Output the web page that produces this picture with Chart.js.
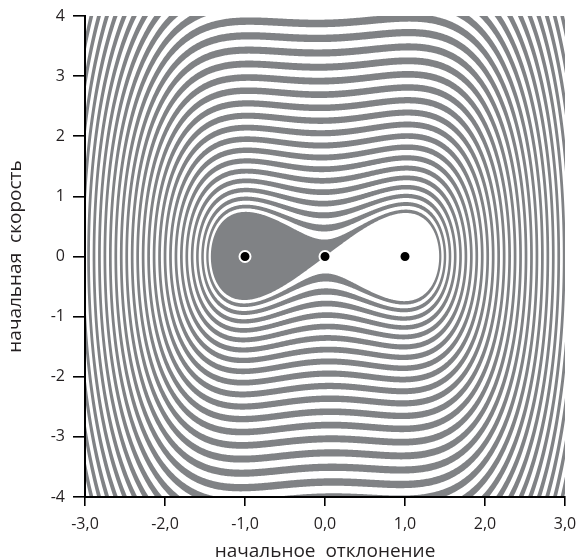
<!DOCTYPE html>
<html>
<head>
<meta charset="utf-8">
<script src="https://cdn.jsdelivr.net/npm/chart.js@4/dist/chart.umd.min.js"></script>
<style>
  html, body { margin: 0; padding: 0; background: #fff; }
  #wrap { width: 579px; height: 560px; }
</style>
</head>
<body>
<div id="wrap"><canvas id="chart" width="579" height="560"></canvas></div>
<script>
// equilibrium points shown as dots
const eqX = [-1, 0, 1];
const eqV = [0, 0, 0];

// axis ranges / ticks
const xTicks = [-3, -2, -1, 0, 1, 2, 3];
const yTicks = [-4, -3, -2, -1, 0, 1, 2, 3, 4];

// Duffing oscillator x'' + d*x' - x + x^3 = 0, damping read from stripe count
const damping = 0.027;

const grey = '#808285';
const textColor = '#231f20';
const fontFamily = '"Open Sans", "Noto Sans", sans-serif';

// stable manifold of the saddle (0,0), traced backwards in time.
// this is the boundary between the two basins of attraction
function stableBranch() {
  const lam = (-damping - Math.sqrt(damping * damping + 4)) / 2;
  const n = Math.hypot(1, lam);
  let x = 1e-6 / n, v = 1e-6 * lam / n;
  const f = (x, v) => [-v, damping * v - x + x * x * x];
  const pts = [[x, v]];
  const dt = 0.004;
  for (let i = 0; i < 500000; i++) {
    const k1 = f(x, v);
    const k2 = f(x + dt / 2 * k1[0], v + dt / 2 * k1[1]);
    const k3 = f(x + dt / 2 * k2[0], v + dt / 2 * k2[1]);
    const k4 = f(x + dt * k3[0], v + dt * k3[1]);
    x += dt / 6 * (k1[0] + 2 * k2[0] + 2 * k3[0] + k4[0]);
    v += dt / 6 * (k1[1] + 2 * k2[1] + 2 * k3[1] + k4[1]);
    const last = pts[pts.length - 1];
    if (Math.abs(x - last[0]) + Math.abs(v - last[1]) > 0.008) pts.push([x, v]);
    const energy = v * v / 2 - x * x / 2 + x * x * x * x / 4;
    if (energy > 32) { pts.push([x, v]); break; }
  }
  return pts;
}

const branch = stableBranch();

// closed outline: one branch in, the mirrored branch out, then a big arc outside the plot
function basinOutline() {
  const out = [];
  for (let i = branch.length - 1; i >= 0; i--) out.push(branch[i]);
  out.push([0, 0]);
  for (let i = 0; i < branch.length; i++) out.push([-branch[i][0], -branch[i][1]]);
  const end = out[out.length - 1];
  const R = 60;
  const a0 = Math.atan2(end[1], end[0]);
  for (let k = 0; k <= 32; k++) {
    const a = a0 + Math.PI * k / 32;
    out.push([R * Math.cos(a), R * Math.sin(a)]);
  }
  return out;
}
const outline = basinOutline();

const basinPlugin = {
  id: 'basins',
  beforeDraw(chart) {
    const {ctx, chartArea: a, scales: {x: xs, y: ys}} = chart;
    const px = d => xs.getPixelForValue(d[0]);
    // picture shows the velocity axis mirrored
    const py = d => ys.getPixelForValue(-d[1]);
    const path = new Path2D();
    path.moveTo(px(outline[0]), py(outline[0]));
    for (let i = 1; i < outline.length; i++) path.lineTo(px(outline[i]), py(outline[i]));
    path.closePath();
    const inside = ctx.isPointInPath(path, xs.getPixelForValue(1), ys.getPixelForValue(0));
    ctx.save();
    ctx.beginPath();
    ctx.rect(a.left, a.top, a.right - a.left, a.bottom - a.top);
    ctx.clip();
    ctx.fillStyle = inside ? grey : '#fff';
    ctx.fillRect(a.left, a.top, a.right - a.left, a.bottom - a.top);
    ctx.fillStyle = inside ? '#fff' : grey;
    ctx.fill(path);
    ctx.restore();
  }
};

const gridCommon = {
  drawOnChartArea: false,
  drawTicks: true,
  color: '#000',
  lineWidth: 1.6
};

new Chart(document.getElementById('chart'), {
  type: 'scatter',
  plugins: [basinPlugin],
  data: {
    datasets: [{
      data: eqX.map((x, i) => ({ x: x, y: eqV[i] })),
      backgroundColor: '#000',
      borderColor: '#fff',
      borderWidth: 2,
      pointRadius: 5.5,
      pointHoverRadius: 5.5
    }]
  },
  options: {
    responsive: false,
    animation: false,
    events: [],
    layout: { padding: { left: 0, top: 16, right: 14, bottom: 0 } },
    plugins: { legend: { display: false }, tooltip: { enabled: false } },
    scales: {
      x: {
        type: 'linear',
        min: xTicks[0],
        max: xTicks[xTicks.length - 1],
        afterBuildTicks: s => { s.ticks = xTicks.map(v => ({ value: v })); },
        afterFit: s => { s.height = 63; s.paddingLeft = 0; s.paddingRight = 0; },
        grid: { ...gridCommon, tickLength: 9 },
        border: { display: true, color: '#000', width: 2 },
        ticks: {
          color: textColor,
          padding: 9,
          font: { family: fontFamily, size: 16 },
          maxRotation: 0,
          callback: v => v.toFixed(1).replace('.', ',')
        },
        title: {
          display: true,
          text: 'начальное  отклонение',
          color: textColor,
          font: { family: fontFamily, size: 19 },
          padding: { top: 0, bottom: -3 }
        }
      },
      y: {
        type: 'linear',
        min: yTicks[0],
        max: yTicks[yTicks.length - 1],
        afterBuildTicks: s => { s.ticks = yTicks.map(v => ({ value: v })); },
        afterFit: s => { s.width = 85; s.paddingTop = 0; s.paddingBottom = 0; },
        grid: { ...gridCommon, tickLength: 12 },
        border: { display: true, color: '#000', width: 2 },
        ticks: {
          color: textColor,
          padding: 8,
          font: { family: fontFamily, size: 16 },
          callback: v => String(v)
        },
        title: {
          display: true,
          text: 'начальная  скорость',
          color: textColor,
          font: { family: fontFamily, size: 19 },
          padding: { top: 4, bottom: 0 }
        }
      }
    }
  }
});
</script>
</body>
</html>
